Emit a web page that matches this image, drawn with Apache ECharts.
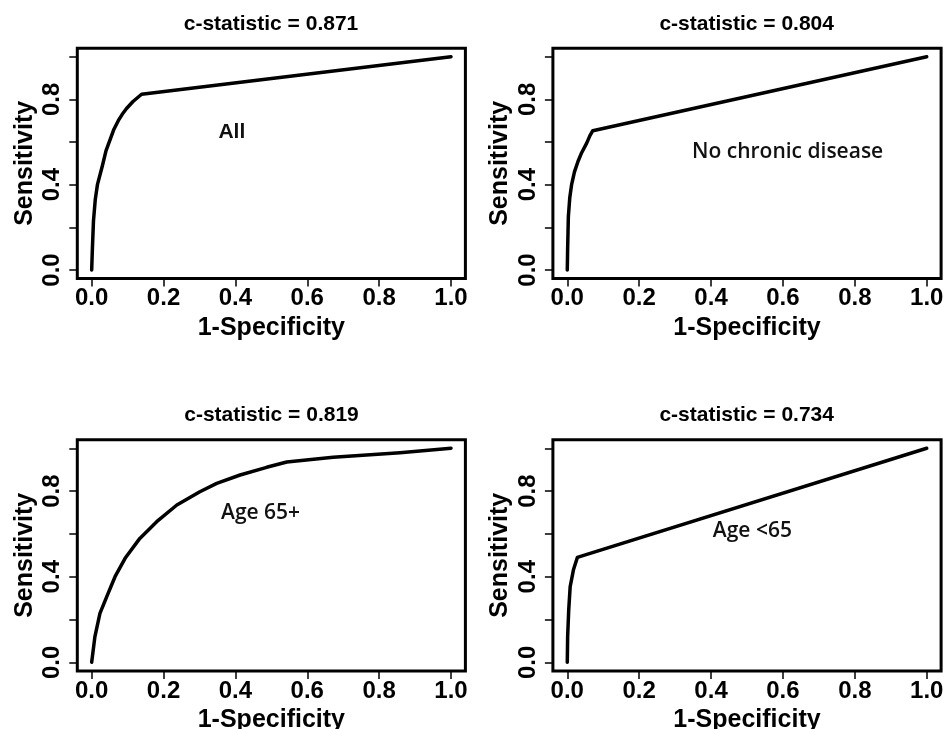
<!DOCTYPE html>
<html>
<head>
<meta charset="utf-8">
<script src="https://cdn.jsdelivr.net/npm/echarts@6/dist/echarts.min.js"></script>
<style>
html,body{margin:0;padding:0;background:#fff;}
#chart{width:946px;height:729px;}
</style>
</head>
<body>
<div id="chart"></div>
<script>
// ---- data ----
const panelTitles = ['c-statistic = 0.871', 'c-statistic = 0.804', 'c-statistic = 0.819', 'c-statistic = 0.734'];
const panelLabels = ['All', 'No chronic disease', 'Age 65+', 'Age <65'];
const xTickValues = [0, 0.2, 0.4, 0.6, 0.8, 1.0];
const yTickValues = [0, 0.2, 0.4, 0.6, 0.8, 1.0];
const yLabelValues = [0, 0.4, 0.8];
const xAxisName = '1-Specificity';
const yAxisName = 'Sensitivity';

const fprAll = [0, 0.002, 0.005, 0.010, 0.016, 0.030, 0.040, 0.051, 0.062, 0.074, 0.085, 0.097, 0.115, 0.139, 1.0];
const tprAll = [0, 0.10, 0.23, 0.33, 0.40, 0.49, 0.56, 0.61, 0.66, 0.70, 0.73, 0.757, 0.79, 0.824, 1.0];

const fprNoChronic = [0, 0.001, 0.003, 0.007, 0.012, 0.020, 0.030, 0.040, 0.054, 0.063, 0.071, 1.0];
const tprNoChronic = [0, 0.10, 0.25, 0.34, 0.40, 0.46, 0.51, 0.55, 0.595, 0.63, 0.653, 1.0];

const fpr65plus = [0, 0.009, 0.023, 0.042, 0.065, 0.093, 0.134, 0.181, 0.237, 0.301, 0.348, 0.413, 0.487, 0.543, 0.672, 0.858, 1.0];
const tpr65plus = [0, 0.12, 0.229, 0.307, 0.40, 0.486, 0.579, 0.657, 0.735, 0.797, 0.836, 0.875, 0.911, 0.936, 0.958, 0.979, 1.0];

const fprUnder65 = [0, 0.001, 0.004, 0.008, 0.017, 0.028, 1.0];
const tprUnder65 = [0, 0.12, 0.244, 0.353, 0.431, 0.49, 1.0];

// annotation positions in data units
const labelX = [0.39, 0.613, 0.47, 0.515];
const labelY = [0.647, 0.553, 0.698, 0.615];

// ---- layout / style ----
const fprs = [fprAll, fprNoChronic, fpr65plus, fprUnder65];
const tprs = [tprAll, tprNoChronic, tpr65plus, tprUnder65];
const grids = [
  {left: 77.3, top: 48.2, width: 388.1, height: 230.3},
  {left: 552.9, top: 48.2, width: 388.2, height: 230.3},
  {left: 77.3, top: 439.7, width: 388.1, height: 231.2},
  {left: 552.9, top: 439.7, width: 388.2, height: 231.2}
];
const titleCx = [271, 746.7, 271.5, 746.7];
const titleTop = [13.5, 13.5, 405, 405];

const FONT = "'Liberation Sans', Arial, sans-serif";
const FONT2 = "'Open Sans', 'Noto Sans', sans-serif";
const labelStyles = [
  {fontFamily: FONT, fontWeight: 'bold', fontSize: 21},
  {fontFamily: FONT2, fontWeight: 600, fontSize: 21},
  {fontFamily: FONT2, fontWeight: 600, fontSize: 21},
  {fontFamily: FONT2, fontWeight: 600, fontSize: 21}
];
const fmt = v => Number(v).toFixed(1);

const option = {
  animation: false,
  backgroundColor: '#fff',
  title: panelTitles.map((t, i) => ({
    text: t,
    left: titleCx[i],
    top: titleTop[i],
    textAlign: 'center',
    padding: 0,
    textStyle: {fontFamily: FONT, fontWeight: 'bold', fontSize: 21, color: '#000'}
  })),
  grid: grids.map(g => Object.assign({
    show: true, borderColor: '#000', borderWidth: 3, backgroundColor: 'transparent',
    containLabel: false, outerBoundsMode: 'none'
  }, g)),
  xAxis: grids.map((g, i) => ({
    type: 'value', gridIndex: i, min: -0.04, max: 1.04,
    name: xAxisName, nameLocation: 'middle', nameGap: 37,
    nameTextStyle: {fontFamily: FONT, fontWeight: 'bold', fontSize: 25, color: '#000'},
    axisLine: {show: false, onZero: false},
    splitLine: {show: false},
    axisTick: {show: true, inside: false, length: 8, customValues: xTickValues, lineStyle: {color: '#000', width: 1.5}},
    axisLabel: {show: true, customValues: xTickValues, formatter: fmt, margin: 8,
      fontFamily: FONT, fontWeight: 'bold', fontSize: 24, color: '#000'}
  })),
  yAxis: grids.map((g, i) => ({
    type: 'value', gridIndex: i, min: -0.04, max: 1.04,
    name: yAxisName, nameLocation: 'middle', nameGap: 40,
    nameTextStyle: {fontFamily: FONT, fontWeight: 'bold', fontSize: 25, color: '#000'},
    axisLine: {show: false, onZero: false},
    splitLine: {show: false},
    axisTick: {show: true, inside: false, length: 8, customValues: yTickValues, lineStyle: {color: '#000', width: 1.5}},
    axisLabel: {show: true, customValues: yLabelValues, formatter: fmt, rotate: 90, margin: 13,
      fontFamily: FONT, fontWeight: 'bold', fontSize: 24, color: '#000'}
  })),
  series: fprs.map((f, i) => ({
    type: 'line',
    xAxisIndex: i, yAxisIndex: i,
    data: f.map((x, j) => [x, tprs[i][j]]),
    showSymbol: false,
    symbol: 'none',
    smooth: false,
    lineStyle: {color: '#000', width: 3.5, join: 'round', cap: 'round'},
    silent: true,
    markPoint: {
      symbol: 'circle', symbolSize: 0, silent: true,
      itemStyle: {color: 'rgba(0,0,0,0)'},
      label: Object.assign({show: true, position: 'inside', formatter: panelLabels[i], color: '#111'}, labelStyles[i]),
      data: [{coord: [labelX[i], labelY[i]]}]
    }
  }))
};

const chart = echarts.init(document.getElementById('chart'), null, {renderer: 'canvas'});
chart.setOption(option);
</script>
</body>
</html>
